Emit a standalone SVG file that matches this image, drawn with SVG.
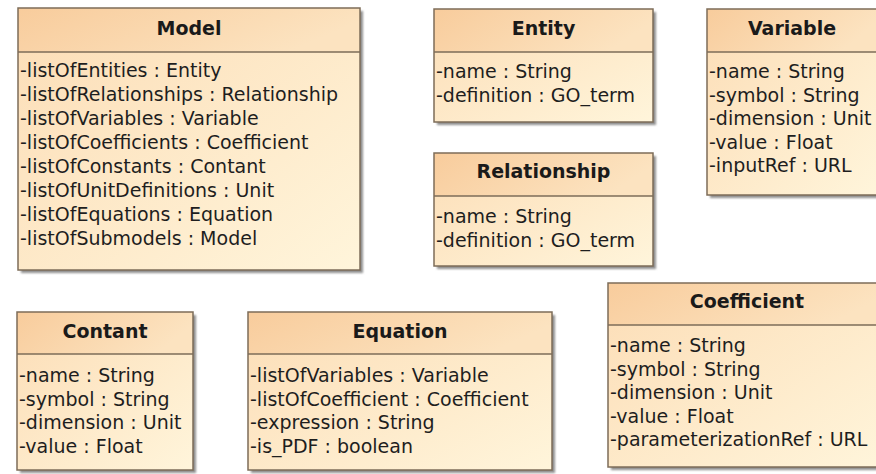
<svg xmlns="http://www.w3.org/2000/svg" width="876" height="474" viewBox="0 0 876 474">
<defs>
  <linearGradient id="hdr" x1="0" y1="0" x2="1" y2="0.3">
    <stop offset="0" stop-color="#F8CC9C"/>
    <stop offset="1" stop-color="#FCE3C0"/>
  </linearGradient>
  <linearGradient id="body" x1="0" y1="0" x2="1" y2="1">
    <stop offset="0" stop-color="#FCDDB6"/>
    <stop offset="1" stop-color="#FFF5DB"/>
  </linearGradient>
  <filter id="sh" x="-5%" y="-5%" width="115%" height="115%">
    <feGaussianBlur stdDeviation="1"/>
  </filter>
</defs>
<style>
  .shadow { fill: #8f8f8f; filter: url(#sh); }
  .hdr { fill: url(#hdr); stroke: none; }
  .body { fill: url(#body); stroke: none; }
  .frame { fill: none; stroke: #7d6c58; stroke-width: 1.5; }
  .div { stroke: #7d6c58; stroke-width: 1.5; }
  .title { font-family: "DejaVu Sans", sans-serif; font-weight: bold; font-size: 19px; fill: #1a1a1a; text-anchor: middle; }
  .attr { font-family: "DejaVu Sans", sans-serif; font-size: 19px; fill: #1e1e1e; }
</style>

<g id="connectors"></g>

<g id="Model">
  <rect class="shadow" x="21" y="11" width="342" height="262"/>
  <rect class="body" x="18" y="8" width="342" height="262"/>
  <rect class="hdr" x="18" y="8" width="342" height="44"/>
  <line class="div" x1="18" y1="52" x2="360" y2="52"/>
  <rect class="frame" x="18" y="8" width="342" height="262"/>
  <text class="title" x="189" y="35">Model</text>
  <text class="attr" x="20" y="77">-listOfEntities : Entity</text>
  <text class="attr" x="20" y="101">-listOfRelationships : Relationship</text>
  <text class="attr" x="20" y="125">-listOfVariables : Variable</text>
  <text class="attr" x="20" y="149">-listOfCoefficients : Coefficient</text>
  <text class="attr" x="20" y="173">-listOfConstants : Contant</text>
  <text class="attr" x="20" y="197">-listOfUnitDefinitions : Unit</text>
  <text class="attr" x="20" y="221">-listOfEquations : Equation</text>
  <text class="attr" x="20" y="245">-listOfSubmodels : Model</text>
</g>

<g id="Entity">
  <rect class="shadow" x="437" y="12" width="219" height="113"/>
  <rect class="body" x="434" y="9" width="219" height="113"/>
  <rect class="hdr" x="434" y="9" width="219" height="43"/>
  <line class="div" x1="434" y1="52" x2="653" y2="52"/>
  <rect class="frame" x="434" y="9" width="219" height="113"/>
  <text class="title" x="543.5" y="35">Entity</text>
  <text class="attr" x="436" y="78">-name : String</text>
  <text class="attr" x="436" y="101.5">-definition : GO_term</text>
</g>

<g id="Relationship">
  <rect class="shadow" x="437" y="156" width="219" height="113"/>
  <rect class="body" x="434" y="153" width="219" height="113"/>
  <rect class="hdr" x="434" y="153" width="219" height="43"/>
  <line class="div" x1="434" y1="196" x2="653" y2="196"/>
  <rect class="frame" x="434" y="153" width="219" height="113"/>
  <text class="title" x="543.5" y="178">Relationship</text>
  <text class="attr" x="436" y="223">-name : String</text>
  <text class="attr" x="436" y="246.5">-definition : GO_term</text>
</g>

<g id="Variable">
  <rect class="shadow" x="710" y="12" width="170" height="186"/>
  <rect class="body" x="707" y="9" width="170" height="186"/>
  <rect class="hdr" x="707" y="9" width="170" height="43"/>
  <line class="div" x1="707" y1="52" x2="877" y2="52"/>
  <rect class="frame" x="707" y="9" width="170" height="186"/>
  <text class="title" x="792" y="35">Variable</text>
  <text class="attr" x="709" y="78">-name : String</text>
  <text class="attr" x="709" y="101.5">-symbol : String</text>
  <text class="attr" x="709" y="125">-dimension : Unit</text>
  <text class="attr" x="709" y="148.5">-value : Float</text>
  <text class="attr" x="709" y="172">-inputRef : URL</text>
</g>

<g id="Contant">
  <rect class="shadow" x="20" y="315" width="176" height="158"/>
  <rect class="body" x="17" y="312" width="176" height="158"/>
  <rect class="hdr" x="17" y="312" width="176" height="42"/>
  <line class="div" x1="17" y1="354" x2="193" y2="354"/>
  <rect class="frame" x="17" y="312" width="176" height="158"/>
  <text class="title" x="105" y="338">Contant</text>
  <text class="attr" x="19" y="382">-name : String</text>
  <text class="attr" x="19" y="405.5">-symbol : String</text>
  <text class="attr" x="19" y="429">-dimension : Unit</text>
  <text class="attr" x="19" y="452.5">-value : Float</text>
</g>

<g id="Equation">
  <rect class="shadow" x="251" y="315" width="304" height="158"/>
  <rect class="body" x="248" y="312" width="304" height="158"/>
  <rect class="hdr" x="248" y="312" width="304" height="42"/>
  <line class="div" x1="248" y1="354" x2="552" y2="354"/>
  <rect class="frame" x="248" y="312" width="304" height="158"/>
  <text class="title" x="400" y="338">Equation</text>
  <text class="attr" x="250" y="382">-listOfVariables : Variable</text>
  <text class="attr" x="250" y="405.5">-listOfCoefficient : Coefficient</text>
  <text class="attr" x="250" y="429">-expression : String</text>
  <text class="attr" x="250" y="452.5">-is_PDF : boolean</text>
</g>

<g id="Coefficient">
  <rect class="shadow" x="611" y="286" width="278" height="184"/>
  <rect class="body" x="608" y="283" width="278" height="184"/>
  <rect class="hdr" x="608" y="283" width="278" height="42"/>
  <line class="div" x1="608" y1="325" x2="886" y2="325"/>
  <rect class="frame" x="608" y="283" width="278" height="184"/>
  <text class="title" x="747" y="308">Coefficient</text>
  <text class="attr" x="610" y="352">-name : String</text>
  <text class="attr" x="610" y="375.5">-symbol : String</text>
  <text class="attr" x="610" y="399">-dimension : Unit</text>
  <text class="attr" x="610" y="422.5">-value : Float</text>
  <text class="attr" x="610" y="446">-parameterizationRef : URL</text>
</g>
</svg>
